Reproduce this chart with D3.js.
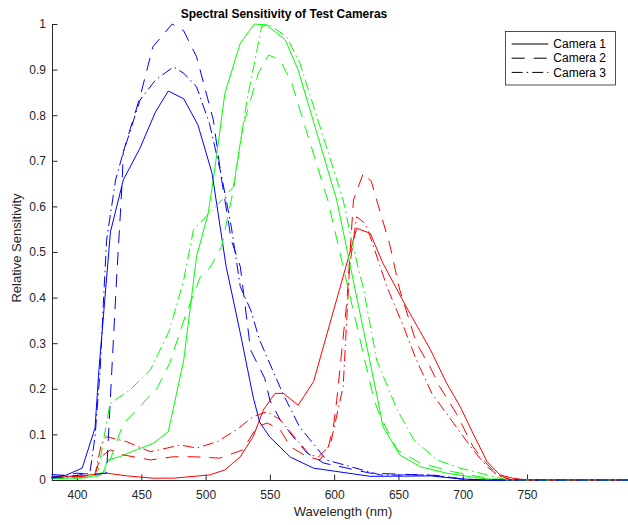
<!DOCTYPE html>
<html>
<head>
<meta charset="utf-8">
<script src="https://cdn.jsdelivr.net/npm/d3@7"></script>
<style>
  body { margin: 0; background: #fff; }
  svg { display: block; font-family: "Liberation Sans", Arial, Helvetica, sans-serif; }
</style>
</head>
<body>
<div id="chart"></div>
<script>
// DATA  [wavelength nm, relative sensitivity]
const cam1Red = [[380,0.008],[400,0.008],[412,0.012],[423,0.015],[439,0.009],[459,0.004],[475,0.004],[503,0.011],[515,0.022],[527,0.051],[537,0.095],[545,0.154],[554,0.19],[560.5,0.19],[572,0.164],[584,0.216],[617.5,0.552],[628,0.541],[638,0.475],[656,0.38],[675,0.285],[687.5,0.212],[698,0.161],[708,0.102],[719,0.04],[729,0.011],[739,0.004],[750,0],[830,0]];
const cam1Green = [[380,0.003],[405,0.005],[415,0.01],[420.5,0.018],[424,0.044],[433,0.051],[446,0.066],[459,0.08],[471,0.106],[483,0.263],[493,0.49],[502,0.585],[506,0.658],[515,0.848],[527,0.958],[538,1.0],[547.5,0.998],[562,0.965],[572,0.899],[602,0.614],[634,0.175],[638,0.117],[651,0.055],[667,0.029],[687.5,0.015],[713,0.004],[730,0],[830,0]];
const cam1Blue = [[380,0.012],[391,0.01],[404,0.026],[414,0.114],[417,0.24],[426,0.544],[436,0.658],[449,0.728],[461,0.807],[471,0.853],[483,0.836],[494,0.779],[505,0.673],[516,0.468],[527,0.322],[537,0.182],[542,0.127],[550,0.094],[558,0.072],[566,0.05],[584,0.026],[628,0.008],[675,0.009],[700,0.002],[720,0],[830,0]];

const cam2Red = [[380,0.005],[405,0.008],[414,0.01],[418,0.05],[426,0.066],[436,0.055],[457,0.044],[475,0.051],[490.5,0.051],[511,0.048],[529,0.066],[540,0.117],[548,0.125],[558,0.11],[566,0.073],[579,0.051],[589,0.044],[595.5,0.073],[599.4,0.117],[602,0.175],[610,0.395],[615,0.614],[622.7,0.673],[629,0.654],[633,0.614],[643,0.519],[651,0.417],[664,0.3],[674.6,0.248],[682,0.205],[695,0.146],[708,0.073],[716,0.044],[727,0.011],[738,0],[830,0]];
const cam2Green = [[380,0.003],[410,0.005],[418,0.01],[423,0.022],[436,0.124],[449,0.161],[463,0.205],[472,0.256],[485,0.366],[496,0.446],[503,0.464],[512.5,0.512],[521.6,0.636],[529,0.775],[541,0.892],[549,0.932],[558,0.921],[567,0.87],[595,0.614],[631,0.175],[636,0.139],[649,0.066],[667,0.037],[692.5,0.018],[719,0.004],[735,0],[830,0]];
const cam2Blue = [[380,0.006],[400,0.015],[412,0.012],[423,0.015],[427,0.237],[431,0.453],[435,0.647],[436,0.72],[449,0.84],[459,0.95],[474,1.0],[483,0.985],[493,0.928],[506,0.79],[512.5,0.658],[520,0.526],[527,0.468],[535,0.285],[546,0.223],[550,0.175],[558,0.132],[568,0.095],[579,0.059],[592,0.037],[628,0.015],[680,0.01],[700,0.002],[720,0],[830,0]];

const cam3Red = [[380,0.005],[405,0.008],[414,0.012],[419,0.08],[423,0.095],[438.6,0.084],[457,0.062],[470,0.07],[480,0.077],[493,0.07],[509,0.084],[524,0.11],[537,0.139],[548,0.15],[558,0.132],[571,0.088],[581,0.055],[588,0.051],[597,0.077],[607,0.205],[612,0.468],[617.5,0.577],[624,0.563],[628,0.534],[641,0.424],[654,0.336],[664,0.263],[676,0.19],[693,0.124],[708,0.066],[719,0.029],[727,0.011],[738,0],[830,0]];
const cam3Green = [[380,0.003],[410,0.006],[416.6,0.022],[425.7,0.168],[441,0.197],[457,0.241],[462,0.27],[472,0.329],[483,0.439],[490.5,0.548],[500,0.577],[509,0.603],[521.6,0.643],[532,0.83],[543.6,0.994],[548.8,1.0],[563,0.972],[573.4,0.914],[607,0.614],[614,0.519],[623,0.417],[633,0.263],[649,0.154],[662,0.088],[680,0.044],[698,0.026],[719,0.011],[735,0],[830,0]];
const cam3Blue = [[380,0.004],[400,0.01],[410,0.015],[414,0.095],[418,0.241],[420.5,0.388],[423,0.526],[430,0.658],[435,0.709],[449,0.833],[461,0.877],[475,0.906],[483,0.892],[493,0.862],[503,0.782],[512.5,0.665],[515,0.629],[520,0.555],[527,0.424],[535,0.373],[542,0.307],[560,0.19],[573,0.117],[594,0.044],[636,0.011],[675,0.011],[700,0.002],[720,0],[830,0]];

const xTicks = [400, 450, 500, 550, 600, 650, 700, 750];
const yTicks = [0, 0.1, 0.2, 0.3, 0.4, 0.5, 0.6, 0.7, 0.8, 0.9, 1];
const cameraNames = ['Camera 1', 'Camera 2', 'Camera 3'];

//STYLES
const dashStyles = ['none', '13,9', '11,4,1.5,4'];
const series = [
  { data: cam1Red, color: '#ff0000', cam: 0 },
  { data: cam1Green, color: '#00ff00', cam: 0 },
  { data: cam1Blue, color: '#0000ff', cam: 0 },
  { data: cam2Red, color: '#ff0000', cam: 1 },
  { data: cam2Green, color: '#00ff00', cam: 1 },
  { data: cam2Blue, color: '#0000ff', cam: 1 },
  { data: cam3Red, color: '#ff0000', cam: 2 },
  { data: cam3Green, color: '#00ff00', cam: 2 },
  { data: cam3Blue, color: '#0000ff', cam: 2 }
];

//DIMENSION
const width = 628, height = 525;
const axisColor = '#262626';

const svg = d3.select('#chart')
  .append('svg')
    .attr('width', width)
    .attr('height', height);

svg.append('rect').attr('width', width).attr('height', height).attr('fill', '#fff');

//SCALES
const xScale = d3.scaleLinear().domain([380, 830]).range([51.3, 629.9]);
const yScale = d3.scaleLinear().domain([0, 1]).range([480, 24]);

//X AXIS
const xAxisG = svg.append('g')
  .attr('transform', `translate(0, ${yScale(0)})`)
  .call(d3.axisBottom(xScale)
    .tickValues(xTicks)
    .tickFormat(d3.format('d'))
    .tickSizeInner(-5.5)
    .tickSizeOuter(0)
    .tickPadding(10.5));

//Y AXIS
const yAxisG = svg.append('g')
  .attr('transform', `translate(${xScale(380) + 0.7}, 0)`)
  .call(d3.axisLeft(yScale)
    .tickValues(yTicks)
    .tickFormat(d => d === 0 || d === 1 ? String(d) : d3.format('.1f')(d))
    .tickSizeInner(-5.5)
    .tickSizeOuter(0)
    .tickPadding(6));

[xAxisG, yAxisG].forEach(g => {
  g.select('.domain').attr('stroke', axisColor);
  g.selectAll('.tick line').attr('stroke', axisColor);
  g.selectAll('.tick text')
    .attr('fill', axisColor)
    .attr('font-size', 12)
    .attr('font-family', '"Liberation Sans", Arial, sans-serif');
});

//LINES
svg.append('clipPath').attr('id', 'plotClip')
  .append('rect')
    .attr('x', xScale(380)).attr('y', 0)
    .attr('width', width).attr('height', yScale(0) + 1);

const line = d3.line()
  .x(d => xScale(d[0]))
  .y(d => yScale(d[1]));

svg.append('g')
  .attr('clip-path', 'url(#plotClip)')
  .selectAll('path')
  .data(series)
  .join('path')
    .attr('d', d => line(d.data))
    .attr('fill', 'none')
    .attr('stroke', d => d.color)
    .attr('stroke-width', 1)
    .attr('stroke-dasharray', d => dashStyles[d.cam]);

//TITLE + LABELS
svg.append('text')
  .attr('x', 284).attr('y', 18)
  .attr('text-anchor', 'middle')
  .attr('font-size', 12)
  .attr('font-weight', 'bold')
  .attr('fill', '#000')
  .text('Spectral Sensitivity of Test Cameras');

svg.append('text')
  .attr('x', 343).attr('y', 516)
  .attr('text-anchor', 'middle')
  .attr('font-size', 13)
  .attr('fill', axisColor)
  .text('Wavelength (nm)');

svg.append('text')
  .attr('transform', 'translate(21, 248) rotate(-90)')
  .attr('text-anchor', 'middle')
  .attr('font-size', 13)
  .attr('fill', axisColor)
  .text('Relative Sensitivity');

//LEGEND
const legendG = svg.append('g');
legendG.append('rect')
  .attr('x', 505.5).attr('y', 31.5)
  .attr('width', 110).attr('height', 53.5)
  .attr('fill', '#fff')
  .attr('stroke', axisColor)
  .attr('stroke-width', 0.8);

const legendRows = legendG.selectAll('g.row')
  .data(cameraNames)
  .join('g')
    .attr('class', 'row')
    .attr('transform', (d, i) => `translate(0, ${44 + i * 14.2})`);

legendRows.append('line')
  .attr('x1', 511.7).attr('x2', 548.3)
  .attr('stroke', '#000')
  .attr('stroke-width', 1)
  .attr('stroke-dasharray', (d, i) => dashStyles[i]);

legendRows.append('text')
  .attr('x', 553.3).attr('y', 4.2)
  .attr('font-size', 12)
  .attr('fill', '#000')
  .text(d => d);
</script>
</body>
</html>
